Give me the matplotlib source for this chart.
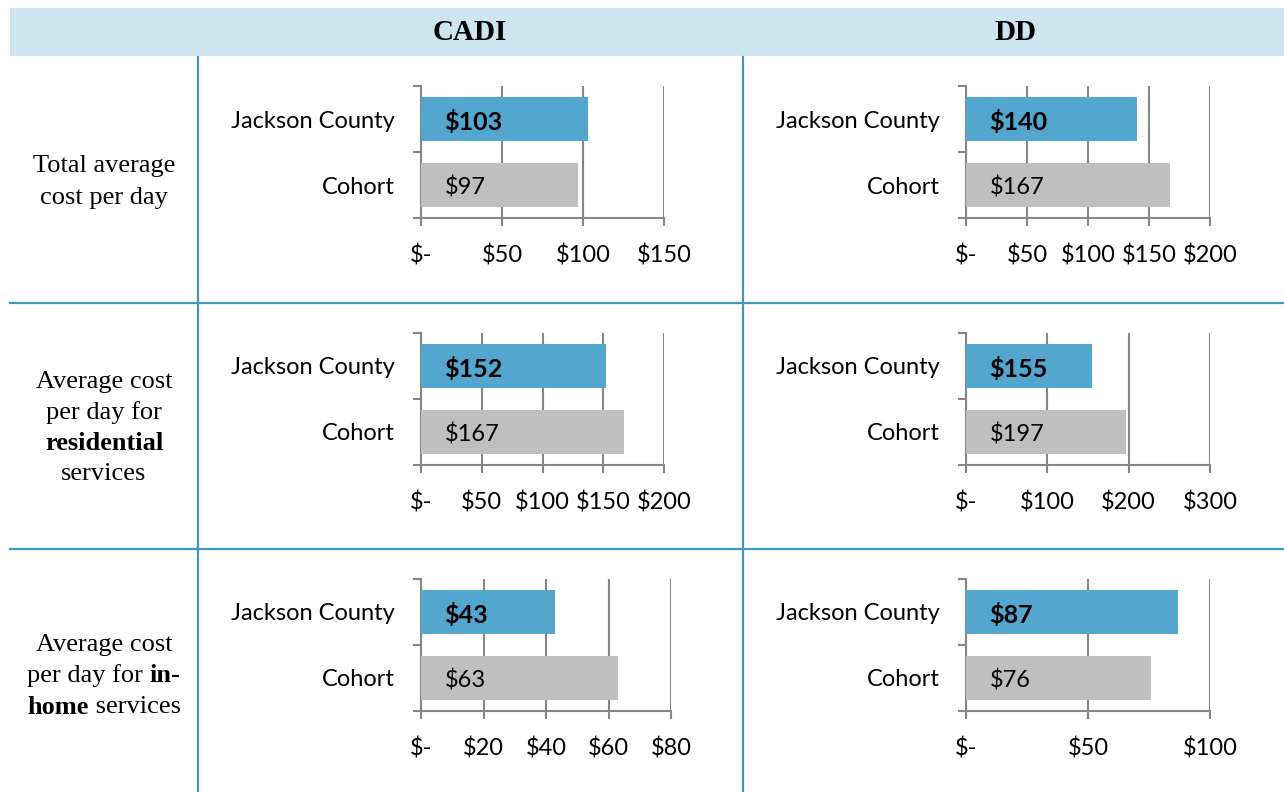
import matplotlib
matplotlib.use("Agg")
import matplotlib.pyplot as plt
from matplotlib.ticker import MultipleLocator, FixedLocator

# data
categories = ["Jackson County", "Cohort"]
columns = ["CADI", "DD"]

cadi_total = [103, 97]
cadi_residential = [152, 167]
cadi_inhome = [43, 63]

dd_total = [140, 167]
dd_residential = [155, 197]
dd_inhome = [87, 76]

cadi_axis_max = [150, 200, 80]
cadi_axis_step = [50, 50, 20]
dd_axis_max = [200, 300, 100]
dd_axis_step = [50, 100, 50]

row_labels = [
    [[("Total average", "normal")], [("cost per day", "normal")]],
    [[("Average cost", "normal")], [("per day for", "normal")],
     [("residential", "bold")], [("services", "normal")]],
    [[("Average cost", "normal")], [("per day for ", "normal"), ("in-", "bold")],
     [("home", "bold"), (" services", "normal")]],
]

BLUE = "#53A7CF"
GREY = "#BFBFBF"
GRID = "#868686"
LINE = "#3E96C2"
HEADER = "#CDE5F0"
SANS = ["Lato", "DejaVu Sans"]
SERIF = ["Liberation Serif", "DejaVu Serif"]

W, H = 1284, 792
fig = plt.figure(figsize=(W / 100, H / 100), dpi=100)

# background layer in pixel coordinates for the table frame
bg = fig.add_axes([0, 0, 1, 1])
bg.set_xlim(0, W)
bg.set_ylim(H, 0)
bg.axis("off")

bg.fill_between([10, W], 8, 56, color=HEADER, lw=0)
bg.text(470, 33, columns[0], family=SERIF, weight="bold", fontsize=21,
        ha="center", va="center")
bg.text(1015, 33, columns[1], family=SERIF, weight="bold", fontsize=21,
        ha="center", va="center")

for x in [198, 743]:
    bg.plot([x, x], [57, H], color=LINE, lw=1.6)
for y in [303, 549]:
    bg.plot([10, W], [y, y], color=LINE, lw=1.6)

renderer = fig.canvas.get_renderer()


def rich_line(x_center, y, parts, size=19):
    texts = []
    for s, w in parts:
        t = bg.text(0, y, s.replace(" ", "\u00a0"), family=SERIF, weight=w,
                    fontsize=size, ha="left", va="center")
        texts.append(t)
    widths = [t.get_window_extent(renderer).width for t in texts]
    x = x_center - sum(widths) / 2
    for t, wd in zip(texts, widths):
        t.set_x(x)
        x += wd


row_centers = [182, 428, 676]
line_gaps = [32, 30.5, 31]
for lines, yc, gap in zip(row_labels, row_centers, line_gaps):
    n = len(lines)
    for i, parts in enumerate(lines):
        rich_line(104, yc + (i - (n - 1) / 2) * gap, parts)

row_tops = [86, 333, 579]
ax_h = 132


def money(v, pos=None):
    return "$-" if v == 0 else f"${v:.0f}"


def bar_panel(left, top, width, values, vmax, step):
    ax = fig.add_axes([left / W, 1 - (top + ax_h) / H, width / W, ax_h / H])
    ypos = [1, 0]
    ax.barh(ypos, values, height=0.68, color=[BLUE, GREY], zorder=3)
    ax.set_xlim(0, vmax)
    ax.set_ylim(-0.5, 1.5)
    ax.xaxis.set_major_locator(MultipleLocator(step))
    ax.xaxis.set_major_formatter(money)
    ax.set_yticks(ypos)
    ax.set_yticklabels(categories, family=SANS, fontsize=17)
    ax.yaxis.set_minor_locator(FixedLocator([-0.5, 0.5, 1.5]))
    ax.tick_params(axis="y", which="major", length=0, pad=19)
    ax.tick_params(axis="y", which="minor", length=6, width=1.5, color=GRID)
    ax.tick_params(axis="x", length=6, width=1.5, color=GRID, pad=13,
                   labelsize=17)
    for lbl in ax.get_xticklabels():
        lbl.set_family(SANS)
    ax.grid(axis="x", color=GRID, lw=1.5, zorder=1)
    for s in ["top", "right"]:
        ax.spines[s].set_visible(False)
    for s in ["left", "bottom"]:
        ax.spines[s].set_color(GRID)
        ax.spines[s].set_linewidth(1.5)
    ax.set_facecolor("none")
    for y, v, wgt, fs in zip(ypos, values, ["bold", "normal"], [18, 17]):
        ax.annotate(money(v), xy=(0, y), xytext=(17, -2),
                    textcoords="offset points", ha="left", va="center",
                    family=SANS, fontsize=fs, weight=wgt, zorder=4)
    return ax


cadi_vals = [cadi_total, cadi_residential, cadi_inhome]
dd_vals = [dd_total, dd_residential, dd_inhome]
cadi_widths = [243, 243, 250]

for i in range(3):
    bar_panel(421, row_tops[i], cadi_widths[i], cadi_vals[i],
              cadi_axis_max[i], cadi_axis_step[i])
    bar_panel(966, row_tops[i], 244, dd_vals[i], dd_axis_max[i], dd_axis_step[i])

fig.savefig("out.png", dpi=100)
